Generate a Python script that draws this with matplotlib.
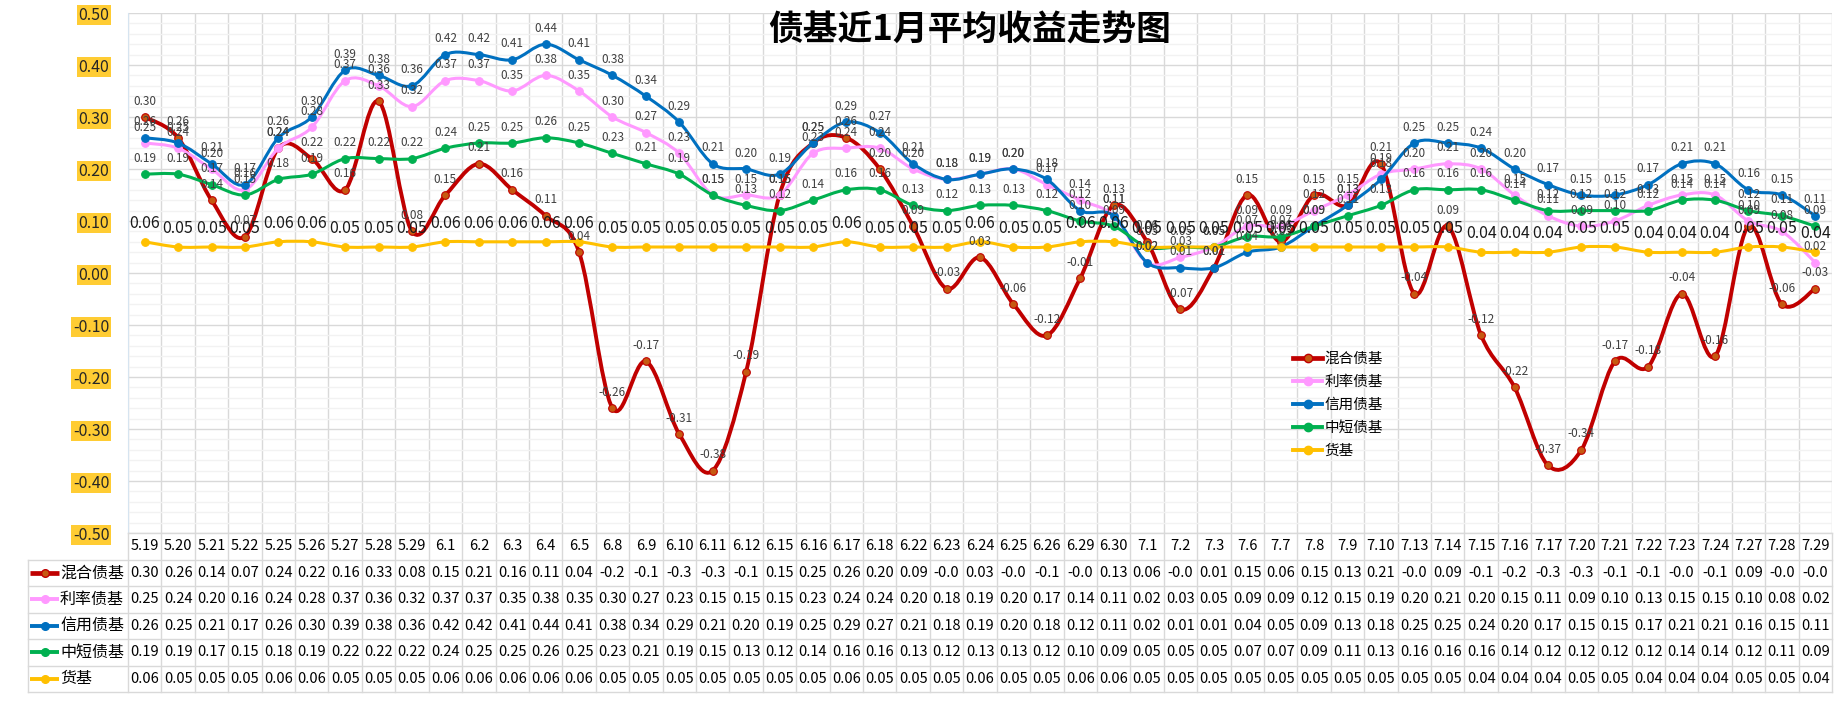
import numpy as np
import matplotlib
matplotlib.use('Agg')
import matplotlib.pyplot as plt
from matplotlib.path import Path
from matplotlib.patches import PathPatch
from matplotlib.lines import Line2D

plt.rcParams['font.family'] = ['Noto Sans CJK SC', 'DejaVu Sans']

dates = ['5.19', '5.20', '5.21', '5.22', '5.25', '5.26', '5.27', '5.28', '5.29',
         '6.1', '6.2', '6.3', '6.4', '6.5', '6.8', '6.9', '6.10', '6.11', '6.12',
         '6.15', '6.16', '6.17', '6.18', '6.22', '6.23', '6.24', '6.25', '6.26',
         '6.29', '6.30', '7.1', '7.2', '7.3', '7.6', '7.7', '7.8', '7.9', '7.10',
         '7.13', '7.14', '7.15', '7.16', '7.17', '7.20', '7.21', '7.22', '7.23',
         '7.24', '7.27', '7.28', '7.29']

mixed = [0.30, 0.26, 0.14, 0.07, 0.24, 0.22, 0.16, 0.33, 0.08, 0.15, 0.21, 0.16, 0.11, 0.04,
         -0.26, -0.17, -0.31, -0.38, -0.19, 0.15, 0.25, 0.26, 0.20, 0.09, -0.03, 0.03, -0.06,
         -0.12, -0.01, 0.13, 0.06, -0.07, 0.01, 0.15, 0.06, 0.15, 0.13, 0.21, -0.04, 0.09,
         -0.12, -0.22, -0.37, -0.34, -0.17, -0.18, -0.04, -0.16, 0.09, -0.06, -0.03]
rate = [0.25, 0.24, 0.20, 0.16, 0.24, 0.28, 0.37, 0.36, 0.32, 0.37, 0.37, 0.35, 0.38, 0.35,
        0.30, 0.27, 0.23, 0.15, 0.15, 0.15, 0.23, 0.24, 0.24, 0.20, 0.18, 0.19, 0.20, 0.17,
        0.14, 0.11, 0.02, 0.03, 0.05, 0.09, 0.09, 0.12, 0.15, 0.19, 0.20, 0.21, 0.20, 0.15,
        0.11, 0.09, 0.10, 0.13, 0.15, 0.15, 0.10, 0.08, 0.02]
credit = [0.26, 0.25, 0.21, 0.17, 0.26, 0.30, 0.39, 0.38, 0.36, 0.42, 0.42, 0.41, 0.44, 0.41,
          0.38, 0.34, 0.29, 0.21, 0.20, 0.19, 0.25, 0.29, 0.27, 0.21, 0.18, 0.19, 0.20, 0.18,
          0.12, 0.11, 0.02, 0.01, 0.01, 0.04, 0.05, 0.09, 0.13, 0.18, 0.25, 0.25, 0.24, 0.20,
          0.17, 0.15, 0.15, 0.17, 0.21, 0.21, 0.16, 0.15, 0.11]
short = [0.19, 0.19, 0.17, 0.15, 0.18, 0.19, 0.22, 0.22, 0.22, 0.24, 0.25, 0.25, 0.26, 0.25,
         0.23, 0.21, 0.19, 0.15, 0.13, 0.12, 0.14, 0.16, 0.16, 0.13, 0.12, 0.13, 0.13, 0.12,
         0.10, 0.09, 0.05, 0.05, 0.05, 0.07, 0.07, 0.09, 0.11, 0.13, 0.16, 0.16, 0.16, 0.14,
         0.12, 0.12, 0.12, 0.12, 0.14, 0.14, 0.12, 0.11, 0.09]
money = [0.06, 0.05, 0.05, 0.05, 0.06, 0.06, 0.05, 0.05, 0.05, 0.06, 0.06, 0.06, 0.06, 0.06,
         0.05, 0.05, 0.05, 0.05, 0.05, 0.05, 0.05, 0.06, 0.05, 0.05, 0.05, 0.06, 0.05, 0.05,
         0.06, 0.06, 0.05, 0.05, 0.05, 0.05, 0.05, 0.05, 0.05, 0.05, 0.05, 0.05, 0.04, 0.04,
         0.04, 0.05, 0.05, 0.04, 0.04, 0.04, 0.05, 0.05, 0.04]

names = ['混合债基', '利率债基', '信用债基', '中短债基', '货基']
colors = ['#C00000', '#FF99FF', '#0070C0', '#00B050', '#FFC000']
marker_faces = ['#C65911', '#FF99FF', '#0070C0', '#00B050', '#FFC000']
widths = [2.8, 2.2, 2.2, 2.2, 2.2]
title = '债基近1月平均收益走势图'

series = [mixed, rate, credit, short, money]

W, H = 1847, 705
fig = plt.figure(figsize=(W / 100, H / 100), dpi=100)
fig.patch.set_facecolor('white')

plot_l, plot_r, plot_t, plot_b = 128, 1832, 13, 533
tab_b = 692
ax = fig.add_axes([plot_l / W, 1 - plot_b / H, (plot_r - plot_l) / W, (plot_b - plot_t) / H])
x = np.arange(len(dates))
ax.set_xlim(-0.5, len(dates) - 0.5)
ax.set_ylim(-0.5, 0.5)

# grid
yt = np.round(np.arange(-0.5, 0.51, 0.1), 2)
ax.set_yticks(yt)
ax.set_yticks(np.round(np.arange(-0.5, 0.51, 0.02), 2), minor=True)
ax.set_xticks(np.arange(-0.5, len(dates), 1.0), minor=True)
ax.set_xticks([])
ax.grid(which='major', axis='y', color='#D9D9D9', lw=1.0, zorder=0)
ax.grid(which='minor', axis='y', color='#F2F2F2', lw=1.0, zorder=0)
ax.grid(which='minor', axis='x', color='#D9D9D9', lw=1.0, zorder=0)
ax.set_axisbelow(True)
for s in ['top', 'right', 'bottom']:
    ax.spines[s].set_visible(False)
ax.spines['left'].set_color('#D6E4F0')
ax.tick_params(axis='y', which='both', length=0, pad=13.5, labelsize=11.5, labelcolor='#262626')
ax.tick_params(axis='x', which='both', length=0)
ax.set_yticklabels([f'{v:.2f}' if abs(v) > 1e-9 else '0.00' for v in yt])
for lab in ax.get_yticklabels():
    lab.set_bbox(dict(facecolor='#FFCC33', edgecolor='none', pad=1.2))


def smooth_path(xs, ys):
    # Excel-like smoothed line: Catmull-Rom segments as cubic Bezier curves
    pts = np.column_stack([xs, ys]).astype(float)
    n = len(pts)
    verts = [pts[0]]
    codes = [Path.MOVETO]
    for i in range(n - 1):
        p0 = pts[max(i - 1, 0)]
        p1 = pts[i]
        p2 = pts[i + 1]
        p3 = pts[min(i + 2, n - 1)]
        c1 = p1 + (p2 - p0) / 6.0
        c2 = p2 - (p3 - p1) / 6.0
        verts += [c1, c2, p2]
        codes += [Path.CURVE4] * 3
    return Path(verts, codes)


handles = []
for k, (vals, name) in enumerate(zip(series, names)):
    patch = PathPatch(smooth_path(x, vals), facecolor='none', edgecolor=colors[k],
                      lw=widths[k], zorder=3 + k, capstyle='round', joinstyle='round')
    ax.add_patch(patch)
    ax.plot(x, vals, 'o', ms=5.5, mfc=marker_faces[k], mec=colors[k], mew=0.8,
            zorder=3.5 + k)
    handles.append(Line2D([], [], color=colors[k], lw=widths[k] + 0.6, marker='o', ms=6,
                          mfc=marker_faces[k], mec=colors[k]))

# data labels
for k, vals in enumerate(series):
    for xi, v in zip(x, vals):
        if k == 4:
            ax.annotate(f'{v:.2f}', (xi, v), xytext=(0, 13.5), textcoords='offset points',
                        ha='center', va='center', fontsize=11.5, color='#1A1A1A', zorder=20)
        else:
            ax.annotate(f'{v:.2f}', (xi, v), xytext=(0, 11.5), textcoords='offset points',
                        ha='center', va='center', fontsize=8.5, color='#404040', zorder=20)

ax.legend(handles, names, loc='upper left', bbox_to_anchor=(1293 / W, 1 - 352 / H),
          bbox_transform=fig.transFigure, frameon=False, fontsize=10.5,
          handlelength=2.0, handletextpad=0.15, labelspacing=0.62, borderpad=0,
          borderaxespad=0)

fig.text(970 / W, 1 - 30 / H, title, ha='center', va='center', fontsize=25,
         fontweight='bold', color='black')

# data table under the chart
axt = fig.add_axes([plot_l / W, 1 - tab_b / H, (plot_r - plot_l) / W, (tab_b - plot_b) / H])
axt.set_xlim(-0.5, len(dates) - 0.5)
axt.set_ylim(6, 0)
axt.axis('off')
left_x = -0.5 - (plot_l - 28) / ((plot_r - plot_l) / len(dates))
grid_c = '#D9D9D9'
axt.plot([-0.5, len(dates) - 0.5], [0, 0], color=grid_c, lw=1, clip_on=False)
for r in range(1, 7):
    axt.plot([left_x, len(dates) - 0.5], [r, r], color=grid_c, lw=1, clip_on=False)
for i in range(len(dates) + 1):
    axt.plot([i - 0.5, i - 0.5], [0, 6], color=grid_c, lw=1, clip_on=False)
axt.plot([left_x, left_x], [1, 6], color=grid_c, lw=1, clip_on=False)

for i, d in enumerate(dates):
    axt.text(i, 0.5, d, ha='center', va='center', fontsize=10.5, color='black')
for k, vals in enumerate(series):
    row = k + 1.5
    axt.plot([left_x + 0.07, left_x + 0.93], [row, row], color=colors[k], lw=widths[k] + 0.6,
             clip_on=False, solid_capstyle='butt')
    axt.plot([left_x + 0.5], [row], 'o', ms=5.5, mfc=marker_faces[k], mec=colors[k],
             clip_on=False)
    axt.text(left_x + 0.96, row, names[k], ha='left', va='center', fontsize=11.5, color='black')
    for i, v in enumerate(vals):
        axt.text(i, row, f'{v:.2f}'[:4], ha='center', va='center', fontsize=10.5, color='black')

fig.savefig('out.png', dpi=100, facecolor='white')
